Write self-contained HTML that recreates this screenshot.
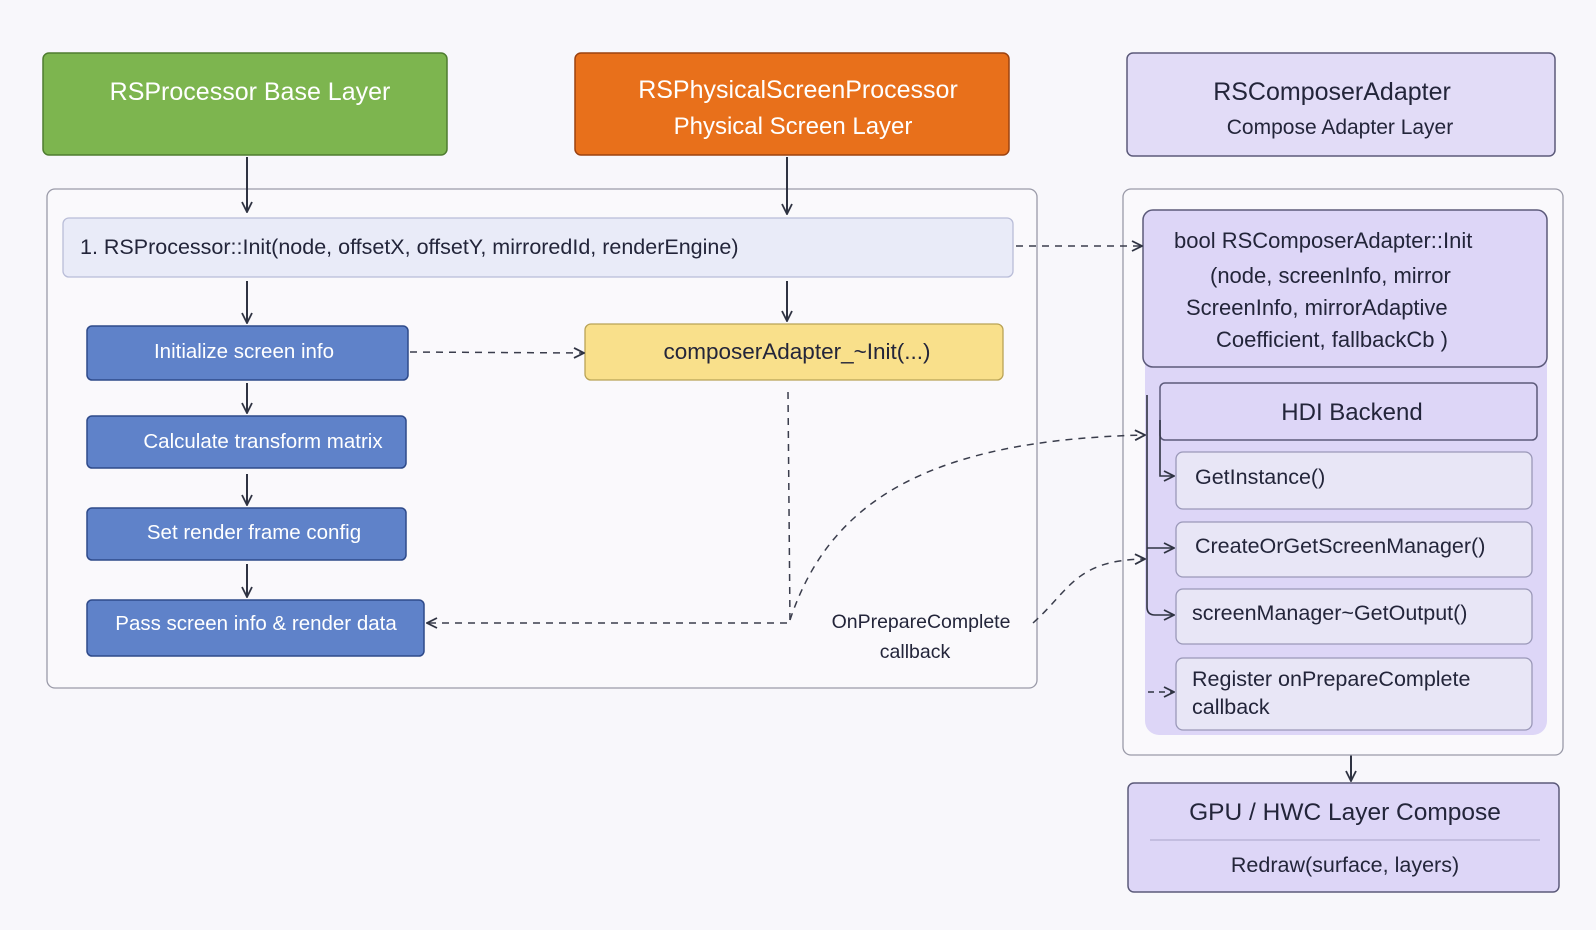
<!DOCTYPE html>
<html><head><meta charset="utf-8"><style>
html,body{margin:0;padding:0;background:#f8f7fb;}
svg{display:block;font-family:"Liberation Sans","DejaVu Sans",sans-serif;}
</style></head><body>
<svg width="1596" height="930" viewBox="0 0 1596 930" xmlns="http://www.w3.org/2000/svg">
<defs>
<marker id="a" viewBox="0 0 12 12" refX="11" refY="6" markerWidth="12" markerHeight="12" markerUnits="userSpaceOnUse" orient="auto"><path d="M1,1 L11,6 L1,11" fill="none" stroke="#2f3342" stroke-width="1.8"/></marker>
</defs>
<rect width="1596" height="930" fill="#f8f7fb"/>
<!-- top headers -->
<rect x="43" y="53" width="404" height="102" rx="6" fill="#7db54f" stroke="#4f7d30" stroke-width="1.5"/>
<text x="250" y="100" font-size="25" fill="#fff" text-anchor="middle">RSProcessor Base Layer</text>
<rect x="575" y="53" width="434" height="102" rx="6" fill="#e8701b" stroke="#9c4210" stroke-width="1.5"/>
<text x="798" y="98" font-size="25" fill="#fff" text-anchor="middle">RSPhysicalScreenProcessor</text>
<text x="793" y="134" font-size="24" fill="#fff" text-anchor="middle">Physical Screen Layer</text>
<rect x="1127" y="53" width="428" height="103" rx="6" fill="#e2dcf7" stroke="#5c5a7a" stroke-width="1.5"/>
<text x="1332" y="100" font-size="25" fill="#23253a" text-anchor="middle">RSComposerAdapter</text>
<text x="1340" y="134" font-size="21" fill="#23253a" text-anchor="middle">Compose Adapter Layer</text>

<!-- left container -->
<rect x="47" y="189" width="990" height="499" rx="8" fill="#faf9fc" stroke="#9a9aa8" stroke-width="1.3"/>
<rect x="63" y="218" width="950" height="59" rx="6" fill="#e9ebf8" stroke="#b9bdd8" stroke-width="1.3"/>
<text x="80" y="254" font-size="21.5" fill="#23253a">1. RSProcessor::Init(node, offsetX, offsetY,  mirroredId, renderEngine)</text>

<g fill="#5f82c9" stroke="#2e4a8a" stroke-width="1.5">
<rect x="87" y="326" width="321" height="54" rx="5"/>
<rect x="87" y="416" width="319" height="52" rx="5"/>
<rect x="87" y="508" width="319" height="52" rx="5"/>
<rect x="87" y="600" width="337" height="56" rx="5"/>
</g>
<g fill="#fff" font-size="20.5" text-anchor="middle">
<text x="244" y="358">Initialize screen info</text>
<text x="263" y="448">Calculate transform matrix</text>
<text x="254" y="539">Set render frame config</text>
<text x="256" y="630">Pass screen info &amp; render data</text>
</g>
<rect x="585" y="324" width="418" height="56" rx="6" fill="#f9e08b" stroke="#b9a356" stroke-width="1.3"/>
<text x="797" y="359" font-size="22.5" fill="#23253a" text-anchor="middle">composerAdapter_~Init(...)</text>

<!-- solid arrows -->
<g stroke="#2f3342" stroke-width="2" fill="none" marker-end="url(#a)">
<line x1="247" y1="157" x2="247" y2="212"/>
<line x1="787" y1="157" x2="787" y2="214"/>
<line x1="247" y1="281" x2="247" y2="323"/>
<line x1="787" y1="281" x2="787" y2="321"/>
<line x1="247" y1="383" x2="247" y2="413"/>
<line x1="247" y1="474" x2="247" y2="505"/>
<line x1="247" y1="564" x2="247" y2="597"/>
<line x1="1351" y1="737" x2="1351" y2="781"/>
</g>
<text x="921" y="628" font-size="19.5" fill="#23253a" text-anchor="middle">OnPrepareComplete</text>
<text x="915" y="658" font-size="19.5" fill="#23253a" text-anchor="middle">callback</text>

<!-- right container -->
<rect x="1123" y="189" width="440" height="566" rx="8" fill="#faf9fc" stroke="#9a9aa8" stroke-width="1.3"/>
<rect x="1145" y="230" width="402" height="505" rx="14" fill="#ddd6f7"/>
<rect x="1143" y="210" width="404" height="157" rx="10" fill="#ddd6f7" stroke="#5c5a7a" stroke-width="1.5"/>
<g font-size="22" fill="#23253a">
<text x="1174" y="248">bool RSComposerAdapter::Init</text>
<text x="1210" y="283">(node,  screenInfo,  mirror</text>
<text x="1186" y="315">ScreenInfo, mirrorAdaptive</text>
<text x="1216" y="347">Coefficient,   fallbackCb  )</text>
</g>
<rect x="1160" y="383" width="377" height="57" rx="5" fill="#ddd6f7" stroke="#5c5a7a" stroke-width="1.5"/>
<text x="1352" y="420" font-size="24" fill="#23253a" text-anchor="middle">HDI Backend</text>
<g fill="#e8e6f6" stroke="#9a98b8" stroke-width="1.3">
<rect x="1176" y="452" width="356" height="57" rx="7"/>
<rect x="1176" y="522" width="356" height="55" rx="7"/>
<rect x="1176" y="589" width="356" height="55" rx="7"/>
<rect x="1176" y="658" width="356" height="72" rx="7"/>
</g>
<g font-size="21.5" fill="#23253a">
<text x="1195" y="484">GetInstance()</text>
<text x="1195" y="553">CreateOrGetScreenManager()</text>
<text x="1192" y="620">screenManager~GetOutput()</text>
<text x="1192" y="686">Register onPrepareComplete</text>
<text x="1192" y="714">callback</text>
</g>
<g stroke="#2f3342" stroke-width="1.6" fill="none">
<path d="M1160,420 L1160,476 L1174,476" marker-end="url(#a)"/>
<path d="M1147,395 L1147,607 Q1147,615 1155,615 L1174,615" marker-end="url(#a)"/>
<line x1="1147" y1="548" x2="1174" y2="548" marker-end="url(#a)"/>
<line x1="1148" y1="692" x2="1174" y2="692" stroke-dasharray="6,5" marker-end="url(#a)"/>
</g>

<!-- dashed connectors (on top) -->
<g stroke="#3a3d4c" stroke-width="1.5" fill="none" stroke-dasharray="7,6" marker-end="url(#a)">
<line x1="1016" y1="246" x2="1142" y2="246"/>
<line x1="410" y1="352" x2="584" y2="353"/>
<polyline points="788,392 790,623 427,623"/>
<path d="M790,620 C830,500 930,440 1145,435"/>
<path d="M1033,623 C1070,590 1075,560 1145,559"/>
</g>

<!-- GPU -->
<rect x="1128" y="783" width="431" height="109" rx="6" fill="#ddd6f7" stroke="#5c5a7a" stroke-width="1.5"/>
<line x1="1150" y1="840" x2="1540" y2="840" stroke="#a9a4c8" stroke-width="1"/>
<text x="1345" y="820" font-size="24.5" fill="#23253a" text-anchor="middle">GPU / HWC Layer Compose</text>
<text x="1345" y="872" font-size="21.5" fill="#23253a" text-anchor="middle">Redraw(surface, layers)</text>
</svg>
</body></html>
